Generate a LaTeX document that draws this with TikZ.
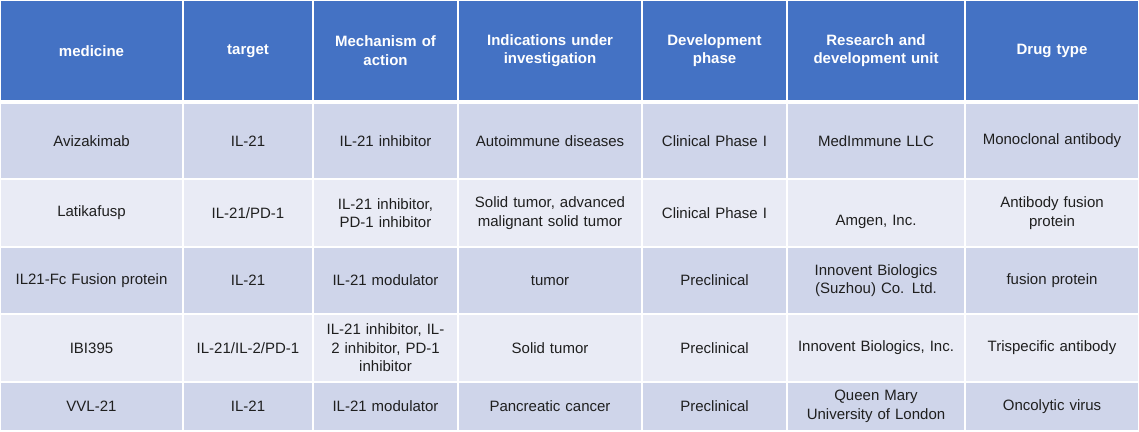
\documentclass[tikz,border=0pt]{standalone}
\usepackage{fontspec}
\setmainfont{Liberation Sans}
\definecolor{hdr}{HTML}{4472C4}
\definecolor{rowa}{HTML}{CFD5EA}
\definecolor{rowb}{HTML}{E9EBF5}
\hyphenpenalty=10000
\newcommand\cel[7]{\node[cellbox,fill=#6,minimum width={(#3-#2)*1pt},minimum height={(#5-#4)*1pt},text width={(#3-#2-10)*1pt}] (#1) at ({(#2+#3)/2*1pt},{-(#4+#5)/2*1pt}) {#7};}
\newcommand\rowcells[9]{%
\cel{#1a}{0}{183}{#2}{#3}{#4}{#5}\cel{#1b}{183}{313}{#2}{#3}{#4}{#6}\cel{#1c}{313}{458}{#2}{#3}{#4}{#7}\cel{#1d}{458}{642}{#2}{#3}{#4}{#8}\cel{#1e}{642}{787}{#2}{#3}{#4}{#9}}
\newcommand\hb[1]{\textcolor{white}{\bfseries #1}}
\begin{document}
\hyphenpenalty=10000
\begin{tikzpicture}[x=1pt,y=1pt,
  cellbox/.style={draw=white,line width=1.2pt,inner sep=0pt,align=center,font=\fontsize{15}{18.5}\selectfont,text=black!88}]
\useasboundingbox (0,0) rectangle (1139,-431);
\fill[white] (0,0) rectangle (1139,-431);
% header
\rowcells{h}{0}{101.5}{hdr}{\hb{medicine}}{\hb{target}}{\hb{Mechanism of}\\\hb{action}}{\hb{Indications under}\\\hb{investigation}}{\hb{Development}\\\hb{phase}}
\cel{hf}{787}{965}{0}{101.5}{hdr}{\hb{Research and}\\\hb{development unit}}
\cel{hg}{965}{1139}{0}{101.5}{hdr}{\hb{Drug type}}
\draw[white,line width=3pt] (0,-101.5) -- (1139,-101.5);
\rowcells{r1}{103}{179}{rowa}{Avizakimab}{IL-21}{IL-21 inhibitor}{Autoimmune diseases}{Clinical Phase I}
\cel{r1f}{787}{965}{103}{179}{rowa}{MedImmune LLC}
\cel{r1g}{965}{1139}{103}{179}{rowa}{Monoclonal antibody}
\rowcells{r2}{179}{247}{rowb}{Latikafusp}{IL-21/PD-1}{IL-21 inhibitor,\\PD-1 inhibitor}{Solid tumor, advanced\\malignant solid tumor}{Clinical Phase I}
\cel{r2f}{787}{965}{179}{247}{rowb}{\strut\\[-3pt]Amgen, Inc.}
\cel{r2g}{965}{1139}{179}{247}{rowb}{Antibody fusion\\protein}
\rowcells{r3}{247}{314}{rowa}{IL21-Fc Fusion protein}{IL-21}{IL-21 modulator}{tumor}{Preclinical}
\cel{r3f}{787}{965}{247}{314}{rowa}{Innovent Biologics\\(Suzhou) Co. Ltd.}
\cel{r3g}{965}{1139}{247}{314}{rowa}{fusion protein}
\rowcells{r4}{314}{382}{rowb}{IBI395}{IL-21/IL-2/PD-1}{IL-21 inhibitor, IL-\\2 inhibitor, PD-1\\inhibitor}{Solid tumor}{Preclinical}
\cel{r4f}{787}{965}{314}{382}{rowb}{Innovent Biologics, Inc.}
\cel{r4g}{965}{1139}{314}{382}{rowb}{Trispecific antibody}
\rowcells{r5}{382}{431}{rowa}{VVL-21}{IL-21}{IL-21 modulator}{Pancreatic cancer}{Preclinical}
\cel{r5f}{787}{965}{382}{431}{rowa}{Queen Mary\\University of London}
\cel{r5g}{965}{1139}{382}{431}{rowa}{Oncolytic virus}
\end{tikzpicture}
\end{document}
